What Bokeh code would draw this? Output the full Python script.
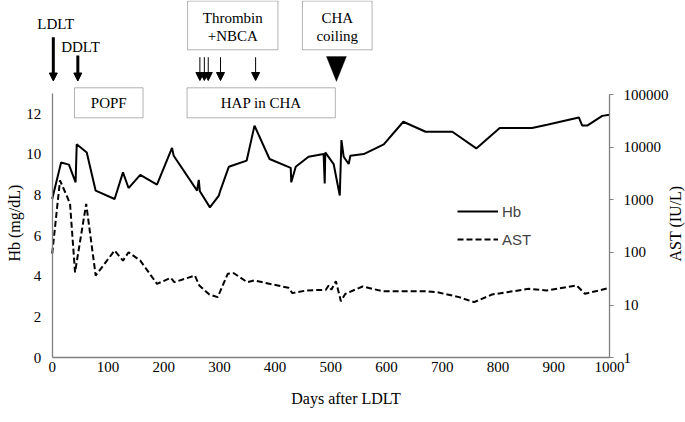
import math
from bokeh.plotting import figure
from bokeh.models import (Range1d, LinearAxis, LogAxis, LogScale, FixedTicker, BasicTickFormatter,
                          Legend, LegendItem, Label, BoxAnnotation, Arrow, NormalHead, PolyAnnotation)
from bokeh.embed import file_html
from bokeh.resources import INLINE

# ---------------- data ----------------
hb_days = [0, 16, 30, 42, 44, 62, 78, 112, 127, 137, 158, 188, 215, 218, 260, 263, 265, 283, 299, 302,
           317, 326, 349, 363, 390, 428, 429, 437, 460, 487, 489, 490, 505, 516, 519, 523, 532, 535,
           559, 595, 630, 670, 718, 761, 803, 861, 888, 945, 951, 960, 987, 1000]
hb_vals = [7.81, 9.61, 9.5, 8.63, 10.5, 10.1, 8.22, 7.81, 9.12, 8.35, 9.0, 8.52, 10.32, 9.94, 8.22, 8.75,
           8.19, 7.4, 7.98, 8.25, 9.4, 9.48, 9.7, 11.42, 9.78, 9.34, 8.63, 9.4, 9.89, 10.02, 8.58, 10.1,
           9.53, 7.98, 10.71, 9.89, 9.53, 9.94, 10.02, 10.5, 11.61, 11.12, 11.12, 10.3, 11.3, 11.3, 11.46,
           11.82, 11.42, 11.42, 11.9, 11.96]

ast_days = [0, 14, 26, 32, 41, 61, 78, 112, 127, 137, 158, 188, 213, 219, 256, 264, 282, 297, 315, 326,
            350, 362, 424, 431, 456, 491, 496, 501, 509, 518, 526, 557, 593, 667, 691, 730, 757, 789,
            816, 855, 887, 941, 956, 1000]
ast_vals = [95, 2330, 1200, 840, 42, 840, 36.5, 109, 70, 101, 70, 25.4, 33, 27.3, 36.5, 23.6, 15.9, 14.2,
            39.4, 40.4, 27.3, 29.4, 21.3, 16.9, 19, 19.6, 23.6, 19.6, 28.5, 11.9, 16.4, 22.6, 18.4, 18.4,
            17.6, 14.2, 11.4, 15.9, 17.6, 20.4, 19, 23.6, 16.4, 21.3]

x_ticks = [0, 100, 200, 300, 400, 500, 600, 700, 800, 900, 1000]
hb_ticks = [0, 2, 4, 6, 8, 10, 12]
ast_ticks = [1, 10, 100, 1000, 10000, 100000]

# event annotations (days)
ldlt_day = 2
ddlt_day = 46
thrombin_days = [265, 273, 280, 302, 365]
coil_day = 510
popf_span = (40, 163)
hap_span = (242, 508)
thrombin_box = (243, 405)
coil_box = (449, 574)

# ---------------- geometry (frame = whole canvas, axes at fixed locations) ----------------
W, H = 685, 422
X0_PX, PX_PER_DAY = 51.7, 0.5573
Y0_PX, PX_PER_HB = 357.3, 264.3 / 13.0
PX_PER_DEC = 52.66


def day_at(px):
    return (px - X0_PX) / PX_PER_DAY


def hb_at(py):
    return (Y0_PX - py) / PX_PER_HB


x_start, x_end = day_at(0), day_at(W)
y_start, y_end = hb_at(H), hb_at(0)
ast_start = 10 ** (-(H - Y0_PX) / PX_PER_DEC)
ast_end = 10 ** (Y0_PX / PX_PER_DEC)

SERIF = "Liberation Serif"
SANS = "Liberation Sans"
AX_COL = "#808080"
FS = "15px"

p = figure(width=W, height=H, output_backend="svg", toolbar_location=None,
           x_range=Range1d(x_start, x_end), y_range=Range1d(y_start, y_end),
           min_border=0, min_border_left=0, min_border_right=0, min_border_top=0, min_border_bottom=0,
           x_axis_location=None, y_axis_location=None)
p.extra_y_ranges = {"ast": Range1d(ast_start, ast_end)}
p.extra_y_scales = {"ast": LogScale()}
p.outline_line_color = None
p.xgrid.visible = False
p.ygrid.visible = False
p.background_fill_color = "white"
p.border_fill_color = "white"


def style_axis(ax):
    ax.axis_line_color = AX_COL
    ax.axis_line_width = 1.3
    ax.minor_tick_line_color = None
    ax.major_label_text_font = SERIF
    ax.major_label_text_font_size = FS
    ax.major_label_text_color = "black"


xax = LinearAxis(ticker=FixedTicker(ticks=x_ticks), bounds=(0, 1000), fixed_location=0)
style_axis(xax)
xax.major_tick_line_color = None
xax.major_tick_out = 0
xax.major_label_standoff = 4
p.add_layout(xax, "below")

lax = LinearAxis(ticker=FixedTicker(ticks=hb_ticks), bounds=(0, 13), fixed_location=0)
style_axis(lax)
lax.major_tick_line_color = None
lax.major_tick_out = 0
lax.major_label_standoff = 11
p.add_layout(lax, "left")

rax = LogAxis(y_range_name="ast", ticker=FixedTicker(ticks=ast_ticks), bounds=(1, 100000),
              formatter=BasicTickFormatter(use_scientific=False), fixed_location=1000)
style_axis(rax)
rax.major_tick_line_color = AX_COL
rax.major_tick_out = 4
rax.major_tick_in = 0
rax.major_label_standoff = 10
p.add_layout(rax, "right")

hb_r = p.line(hb_days, hb_vals, line_color="black", line_width=2)
ast_r = p.line(ast_days, ast_vals, line_color="black", line_width=2, line_dash="6 3",
               y_range_name="ast")

legend = Legend(items=[LegendItem(label="Hb", renderers=[hb_r]),
                       LegendItem(label="AST", renderers=[ast_r])],
                location=(457, 173), orientation="vertical",
                label_text_font=SANS, label_text_font_size="15px",
                glyph_width=41, glyph_height=20, label_height=20, label_standoff=4,
                spacing=8, padding=0, margin=0,
                border_line_color=None, background_fill_alpha=0)
p.add_layout(legend, "center")


def title_label(px, py, s, angle=0.0):
    p.add_layout(Label(x=day_at(px), y=hb_at(py), text=s, angle=angle,
                       text_font=SERIF, text_font_size="16px", text_color="black",
                       text_align="center", text_baseline="middle"))


title_label(345.6, 397.5, "Days after LDLT")
title_label(13.5, 222.6, "Hb (mg/dL)", math.pi / 2)
title_label(675.0, 223.0, "AST (IU/L)", math.pi / 2)


def box(span, top_px, bottom_px):
    p.add_layout(BoxAnnotation(left=span[0], right=span[1], top=hb_at(top_px), bottom=hb_at(bottom_px),
                               fill_color="white", fill_alpha=1, line_color="black", line_width=1,
                               level="overlay"))


def txt(xd, py, s):
    p.add_layout(Label(x=xd, y=hb_at(py), text=s, text_font=SERIF, text_font_size=FS,
                       text_color="black", text_align="center", text_baseline="middle", level="overlay"))


box(popf_span, 87.3, 117.3)
box(hap_span, 87.3, 117.3)
box(thrombin_box, 0.5, 49.3)
box(coil_box, 0.5, 49.3)

txt(sum(popf_span) / 2, 102.5, "POPF")
txt(sum(hap_span) / 2, 102.5, "HAP in CHA")
txt(sum(thrombin_box) / 2, 17.5, "Thrombin")
txt(sum(thrombin_box) / 2, 35.5, "+NBCA")
txt(sum(coil_box) / 2, 17.5, "CHA")
txt(sum(coil_box) / 2, 35.5, "coiling")
txt(day_at(55.3), 23.5, "LDLT")
txt(day_at(80.0), 46.0, "DDLT")


def arrow(xd, y0, y1, lw, size):
    p.add_layout(Arrow(end=NormalHead(size=size, fill_color="black", line_color="black", line_width=1),
                       x_start=xd, y_start=hb_at(y0), x_end=xd, y_end=hb_at(y1),
                       line_color="black", line_width=lw))


arrow(ldlt_day, 36.7, 80.5, 3, 8)
arrow(ddlt_day, 55, 80.5, 3, 8)
for d in thrombin_days:
    arrow(d, 56.7, 80, 1, 8)

half_w = 10 / PX_PER_DAY
p.add_layout(PolyAnnotation(xs=[coil_day - half_w, coil_day + half_w, coil_day],
                            ys=[hb_at(56), hb_at(56), hb_at(81)],
                            fill_color="black", fill_alpha=1, line_color="black"))

open("out.html", "w").write(file_html(p, INLINE))
